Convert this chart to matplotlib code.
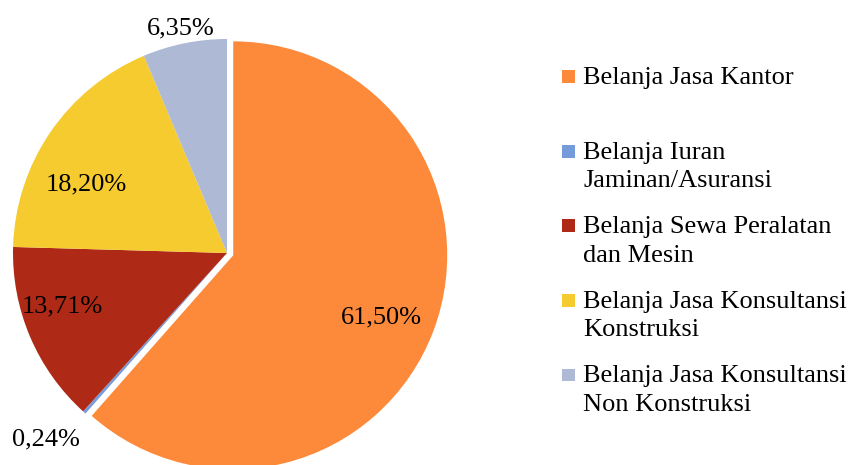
import matplotlib
matplotlib.use("Agg")
import matplotlib.pyplot as plt
from matplotlib.patches import Rectangle

plt.rcParams.update({
    "font.family": ["Liberation Serif", "DejaVu Serif"],
    "font.size": 19,
})

# data
categories = [
    "Belanja Jasa Kantor",
    "Belanja Iuran\nJaminan/Asuransi",
    "Belanja Sewa Peralatan\ndan Mesin",
    "Belanja Jasa Konsultansi\nKonstruksi",
    "Belanja Jasa Konsultansi\nNon Konstruksi",
]
shares = [61.50, 0.24, 13.71, 18.20, 6.35]
pct_labels = ["61,50%", "0,24%", "13,71%", "18,20%", "6,35%"]
colors = ["#FD8A3A", "#769BDB", "#AF2A16", "#F5CB2F", "#AEB9D6"]
explode = [0.031, 0, 0, 0, 0]

# label anchor (baseline) in pie units, radius = 1
label_xy = [(0.723, -0.327), (-0.846, -0.897), (-0.771, -0.280),
            (-0.659, 0.290), (-0.215, 1.019)]

W, H = 851, 465
fig = plt.figure(figsize=(W / 100, H / 100), dpi=100)

# pie geometry in pixels
cx, cy, r = 227, 253, 214
L = 1.2
half = r * L
ax = fig.add_axes([(cx - half) / W, (H - cy - half) / H, 2 * half / W, 2 * half / H])
ax.pie(shares, colors=colors, explode=explode, startangle=90,
       counterclock=False, radius=1,
       wedgeprops=dict(linewidth=0))
ax.set_xlim(-L, L)
ax.set_ylim(-L, L)
ax.set_aspect("auto")
ax.axis("off")

for (x, y), t in zip(label_xy, pct_labels):
    ax.text(x, y, t, ha="center", va="baseline", color="black")

# legend, drawn by hand to mimic the spreadsheet layout
first_base = 84
step = 74.5
line_gap = 28.5
sq = 12.5
for i, (lab, c) in enumerate(zip(categories, colors)):
    base = first_base + i * step
    fig.patches.append(Rectangle((562 / W, (H - base + 1) / H), sq / W, sq / H,
                                 transform=fig.transFigure, facecolor=c,
                                 edgecolor="none"))
    for j, line in enumerate(lab.split("\n")):
        fig.text(583 / W, (H - base - j * line_gap) / H, line,
                 ha="left", va="baseline", color="black")

fig.savefig("out.png", dpi=100, facecolor="white")
